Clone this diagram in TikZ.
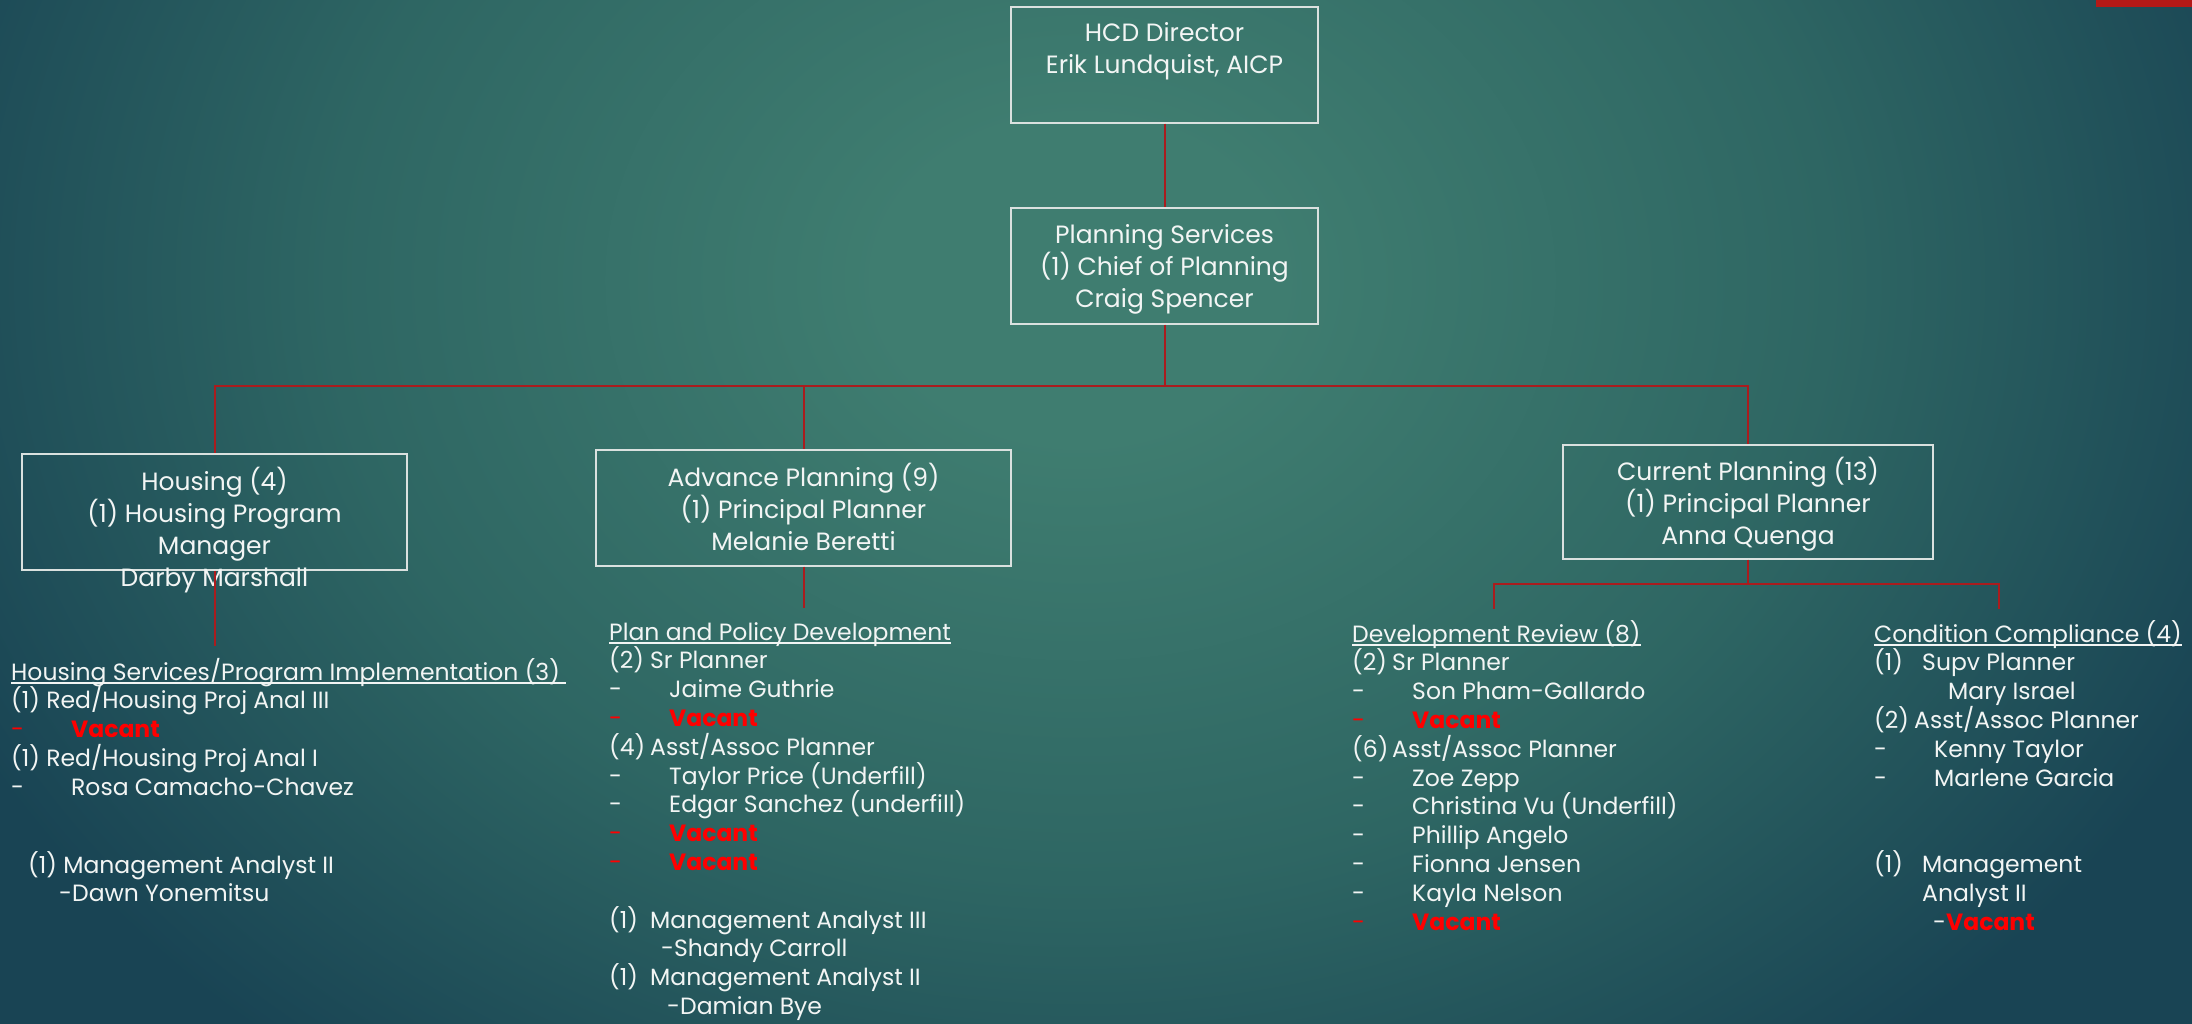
\documentclass[tikz,border=0pt]{standalone}
\usepackage{fontspec}
\setmainfont{Poppins}
\definecolor{bgA}{RGB}{63,125,112}
\definecolor{bgM}{RGB}{46,102,99}
\definecolor{bgB}{RGB}{25,68,84}
\definecolor{txt}{RGB}{242,245,244}
\definecolor{lnred}{RGB}{170,28,30}
\definecolor{bx}{RGB}{218,225,223}
\definecolor{vac}{RGB}{255,0,0}
\definecolor{topred}{RGB}{180,25,23}
\pgfdeclareradialshading{bgrad}{\pgfpoint{0bp}{0bp}}{color(0bp)=(bgA); color(4bp)=(bgA); color(15bp)=(bgM); color(25bp)=(bgB); color(50bp)=(bgB)}
\newcommand\myul[1]{\leavevmode\setbox0\hbox{#1}\rlap{\rule[-4pt]{\wd0}{1.6pt}}\box0}
\newcommand\dsh[1]{\leavevmode\makebox[60pt][l]{-}#1}
\newcommand\vac{\leavevmode{\color{vac}\makebox[60pt][l]{-}\textbf{Vacant}}}
\newcommand\colbox[2]{\begin{minipage}[t]{#1}\raggedright\fontsize{23.5}{28.8}\selectfont #2\end{minipage}}
\newcommand\boxtext[2]{\begin{minipage}[t]{#1}\centering\fontsize{25}{32}\selectfont #2\end{minipage}}
\tikzset{
  orgbox/.style={draw=bx, line width=1.4pt, inner sep=0pt},
  btxt/.style={text=txt, inner sep=0pt, anchor=base},
  ltxt/.style={text=txt, inner sep=0pt, anchor=base west},
  conn/.style={draw=lnred, line width=2pt}
}
\begin{document}
\begin{tikzpicture}[x=1pt,y=-1pt]
\useasboundingbox (0,0) rectangle (2192,1024);
\begin{scope}
\clip (0,0) rectangle (2192,1024);
\fill[bgB] (0,0) rectangle (2192,1024);
\shade[shading=bgrad] (1080,280) ellipse [x radius=1250, y radius=1000];
\end{scope}
\fill[topred] (2096,0) rectangle (2192,7);

% boxes
\node[orgbox, minimum width=307pt, minimum height=116pt] (dir) at (1164.5,65) {};
\node[orgbox, minimum width=307pt, minimum height=116pt] (plan) at (1164.5,266) {};
\node[orgbox, minimum width=385pt, minimum height=116pt] (hous) at (214.5,512) {};
\node[orgbox, minimum width=415pt, minimum height=116pt] (adv) at (803.5,508) {};
\node[orgbox, minimum width=370pt, minimum height=114pt] (cur) at (1748,502) {};

\node[btxt] (dirt) at (1164.5,42) {\boxtext{300pt}{HCD Director\\Erik Lundquist, AICP}};
\node[btxt] (plant) at (1164.5,244) {\boxtext{300pt}{Planning Services\\(1) Chief of Planning\\Craig Spencer}};
\node[btxt] (houst) at (214.5,490) {\boxtext{380pt}{Housing (4)\\(1) Housing Program\\Manager\\Darby Marshall}};
\node[btxt] (advt) at (803.5,486) {\boxtext{410pt}{Advance Planning (9)\\(1) Principal Planner\\Melanie Beretti}};
\node[btxt] (curt) at (1748,480) {\boxtext{365pt}{Current Planning (13)\\(1) Principal Planner\\Anna Quenga}};

% lists
\node[ltxt] (hlist) at (11,680) {\colbox{560pt}{%
\myul{Housing Services/Program Implementation (3)\ }\\
(1) Red/Housing Proj Anal III\\
\vac\\
(1) Red/Housing Proj Anal I\\
\dsh{Rosa Camacho-Chavez}}};
\node[ltxt] (hma) at (28,873) {\colbox{400pt}{%
(1) Management Analyst II\\
\hspace*{31pt}-Dawn Yonemitsu}};

\node[ltxt] (alist) at (609,640) {\colbox{500pt}{%
\myul{Plan and Policy Development}\\
\makebox[41pt][l]{(2)}Sr Planner\\
\dsh{Jaime Guthrie}\\
\vac\\
\makebox[41pt][l]{(4)}Asst/Assoc Planner\\
\dsh{Taylor Price (Underfill)}\\
\dsh{Edgar Sanchez (underfill)}\\
\vac\\
\vac\\
\mbox{}\\
\makebox[41pt][l]{(1)}Management Analyst III\\
\hspace*{52pt}-Shandy Carroll\\
\makebox[41pt][l]{(1)}Management Analyst II\\
\hspace*{58pt}-Damian Bye}};

\node[ltxt] (dlist) at (1352,642) {\colbox{420pt}{%
\myul{Development Review (8)}\\
\makebox[40pt][l]{(2)}Sr Planner\\
\dsh{Son Pham-Gallardo}\\
\vac\\
\makebox[40pt][l]{(6)}Asst/Assoc Planner\\
\dsh{Zoe Zepp}\\
\dsh{Christina Vu (Underfill)}\\
\dsh{Phillip Angelo}\\
\dsh{Fionna Jensen}\\
\dsh{Kayla Nelson}\\
\vac}};

\node[ltxt] (clist) at (1874,642) {\colbox{318pt}{%
\myul{Condition Compliance (4)}\\
\makebox[48pt][l]{(1)}Supv Planner\\
\hspace*{74pt}Mary Israel\\
\makebox[40pt][l]{(2)}Asst/Assoc Planner\\
\dsh{Kenny Taylor}\\
\dsh{Marlene Garcia}\\
\mbox{}\\
\mbox{}\\
\makebox[48pt][l]{(1)}Management\\
\hspace*{48pt}Analyst II\\
\hspace*{59pt}-{\color{vac}\textbf{Vacant}}}};

% connectors
\coordinate (bus) at (1164.5,386);
\coordinate (hend) at (214.5,646);
\coordinate (aend) at (803.5,608);
\coordinate (cbus) at (1748,584);
\coordinate (dend) at (1494,609);
\coordinate (cend) at (1999,609);
\draw[conn] (dir.south) -- (plan.north);
\draw[conn] (plan.south) -- (bus);
\draw[conn] (bus) -| (hous.north);
\draw[conn] (bus) -| (adv.north);
\draw[conn] (bus) -| (cur.north);
\draw[conn] (hous.south) -- (hend);
\draw[conn] (adv.south) -- (aend);
\draw[conn] (cur.south) -- (cbus);
\draw[conn] (cbus) -| (dend);
\draw[conn] (cbus) -| (cend);
\end{tikzpicture}
\end{document}
